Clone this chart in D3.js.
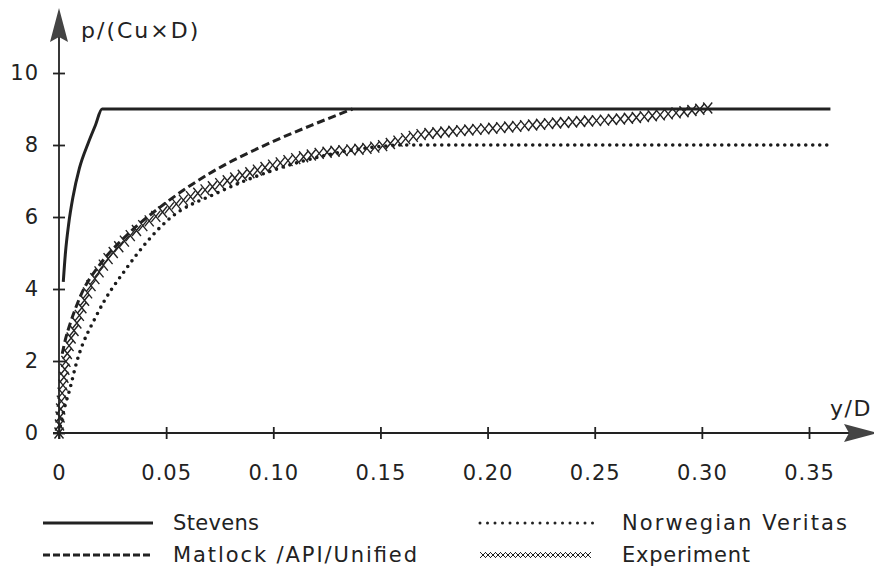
<!DOCTYPE html>
<html>
<head>
<meta charset="utf-8">
<script src="https://cdn.jsdelivr.net/npm/d3@7"></script>
<style>
  body { margin: 0; background: #fff; }
  text { font-family: "DejaVu Sans", sans-serif; fill: #222; }
</style>
</head>
<body>
<div id="chart"></div>
<script>
// data: [y/D, p/(Cu x D)]
const stevens = [[0.002, 4.2], [0.003, 5.0], [0.0045, 5.8], [0.0065, 6.55], [0.0095, 7.35],
  [0.0136, 8.05], [0.017, 8.55], [0.0201, 9], [0.36, 9]];
const matlock = [[0.0015, 2.2], [0.003, 2.6], [0.005, 3.0], [0.01, 3.8], [0.02, 4.75],
  [0.03, 5.4], [0.05, 6.4], [0.07, 7.2], [0.1, 8.1], [0.12, 8.6], [0.137, 9]];
const veritas = [[0, 0], [0.001, 0.3], [0.003, 0.8], [0.0045, 1.1], [0.0084, 2.0], [0.0178, 3.3],
  [0.0318, 4.6], [0.0505, 5.9], [0.075, 6.7], [0.1, 7.3], [0.125, 7.72], [0.15, 7.96],
  [0.16, 8], [0.36, 8]];
const experiment = [[0, 0], [0.0005, 0.45], [0.002, 1.4], [0.003, 1.9], [0.005, 2.5], [0.008, 3.0],
  [0.012, 3.7], [0.02, 4.6], [0.03, 5.3], [0.04, 5.8], [0.05, 6.2], [0.07, 6.8], [0.09, 7.25],
  [0.103, 7.5], [0.12, 7.75], [0.15, 7.97], [0.17, 8.3], [0.18, 8.36], [0.21, 8.5], [0.23, 8.6],
  [0.267, 8.75], [0.285, 8.87], [0.305, 9.05]];
const xTicks = [0, 0.05, 0.10, 0.15, 0.20, 0.25, 0.30, 0.35];
const yTicks = [0, 2, 4, 6, 8, 10];
const legendNames = ['Stevens', 'Norwegian Veritas', 'Matlock /API/Unified', 'Experiment'];

const width = 874;
const height = 575;

const x = d3.scaleLinear().domain([0, 0.35]).range([59, 809]);
const y = d3.scaleLinear().domain([0, 10]).range([433, 73]);

const svg = d3.select('#chart').append('svg')
    .attr('width', width).attr('height', height);

// axes
const xAxis = g => g
    .attr('transform', `translate(0, ${y(0)})`)
    .call(d3.axisBottom(x).tickValues(xTicks)
        .tickFormat(d => d === 0 ? '0' : d3.format('.2f')(d)).tickSize(6).tickPadding(26))
    .call(g => g.select('.domain').remove())
    .call(g => g.selectAll('.tick line').attr('y1', -6).attr('stroke', '#222').attr('stroke-width', 1.8))
    .call(g => g.selectAll('.tick text').attr('font-size', 21).attr('letter-spacing', 1)
        .attr('font-family', 'DejaVu Sans').attr('fill', '#222'));

const yAxis = g => g
    .attr('transform', `translate(${x(0)}, 0)`)
    .call(d3.axisLeft(y).tickValues(yTicks).tickSize(6).tickPadding(14))
    .call(g => g.select('.domain').remove())
    .call(g => g.selectAll('.tick line').attr('x1', 6).attr('stroke', '#222').attr('stroke-width', 1.8))
    .call(g => g.selectAll('.tick text').attr('font-size', 21).attr('letter-spacing', 1)
        .attr('font-family', 'DejaVu Sans').attr('fill', '#222'));

svg.append('g').call(xAxis);
svg.append('g').call(yAxis);

// axis lines with arrow heads
svg.append('line').attr('x1', 53).attr('x2', 850).attr('y1', y(0)).attr('y2', y(0))
    .attr('stroke', '#222').attr('stroke-width', 1.8);
svg.append('line').attr('x1', x(0)).attr('x2', x(0)).attr('y1', y(0) + 6).attr('y2', 30)
    .attr('stroke', '#222').attr('stroke-width', 1.8);
svg.append('path')
    .attr('d', `M${x(0)},8 L${x(0) + 9},42 L${x(0)},37 L${x(0) - 9},42 Z`)
    .attr('fill', '#444');
svg.append('path')
    .attr('d', `M878,${y(0)} L844,${y(0) - 9} L849,${y(0)} L844,${y(0) + 9} Z`)
    .attr('fill', '#444');

svg.append('text').attr('x', 81).attr('y', 38).attr('font-size', 22).attr('letter-spacing', 2)
    .text('p/(Cu\u00d7D)');
svg.append('text').attr('x', 830).attr('y', 416).attr('font-size', 22).attr('letter-spacing', 1.5)
    .text('y/D');

// curves
const line = d3.line().x(d => x(d[0])).y(d => y(d[1])).curve(d3.curveMonotoneX);

svg.append('path').datum(stevens).attr('d', line)
    .attr('fill', 'none').attr('stroke', '#222').attr('stroke-width', 3);

svg.append('path').datum(veritas).attr('d', line)
    .attr('fill', 'none').attr('stroke', '#1a1a1a').attr('stroke-width', 3.6)
    .attr('stroke-linecap', 'round').attr('stroke-dasharray', '0 7');

svg.append('path').datum(matlock).attr('d', line)
    .attr('fill', 'none').attr('stroke', '#222').attr('stroke-width', 3)
    .attr('stroke-dasharray', '8 4');

// experiment: line style made of X marks along the path
const expPath = svg.append('path').datum(experiment).attr('d', line)
    .attr('fill', 'none').attr('stroke', 'none');
const node = expPath.node();
const total = node.getTotalLength();
const marks = d3.range(0, total, 8).map(l => node.getPointAtLength(l));
svg.append('g').attr('stroke', '#222').attr('stroke-width', 1.4).attr('fill', 'none')
    .selectAll('path').data(marks).join('path')
    .attr('d', p => `M${p.x - 4.5},${p.y - 5.5}L${p.x + 4.5},${p.y + 5.5}M${p.x + 4.5},${p.y - 5.5}L${p.x - 4.5},${p.y + 5.5}`);

// legend
const legend = [
  {name: legendNames[0], x1: 43, x2: 153, ty: 523, tx: 173, w: 86, kind: 'solid'},
  {name: legendNames[1], x1: 480, x2: 593, ty: 523, tx: 622, w: 225, kind: 'dot'},
  {name: legendNames[2], x1: 43, x2: 153, ty: 555, tx: 173, w: 244, kind: 'dash'},
  {name: legendNames[3], x1: 480, x2: 593, ty: 555, tx: 622, w: 128, kind: 'cross'}
];
legend.forEach(d => {
  if (d.kind === 'cross') {
    svg.append('g').attr('stroke', '#222').attr('stroke-width', 1).attr('fill', 'none')
      .selectAll('path').data(d3.range(d.x1 + 3, d.x2, 5)).join('path')
      .attr('d', px => `M${px - 3},${d.ty - 3}L${px + 3},${d.ty + 3}M${px + 3},${d.ty - 3}L${px - 3},${d.ty + 3}`);
  } else {
    const l = svg.append('line').attr('x1', d.x1).attr('x2', d.x2).attr('y1', d.ty).attr('y2', d.ty)
      .attr('stroke', '#222');
    if (d.kind === 'solid') l.attr('stroke-width', 3);
    if (d.kind === 'dash') l.attr('stroke-width', 3).attr('stroke-dasharray', '7 3');
    if (d.kind === 'dot') l.attr('stroke-width', 3).attr('stroke-linecap', 'round').attr('stroke-dasharray', '0 7.5');
  }
  svg.append('text').attr('x', d.tx).attr('y', d.ty).attr('dy', '0.35em')
    .attr('font-size', 21).attr('textLength', d.w).attr('lengthAdjust', 'spacing').text(d.name);
});
</script>
</body>
</html>
